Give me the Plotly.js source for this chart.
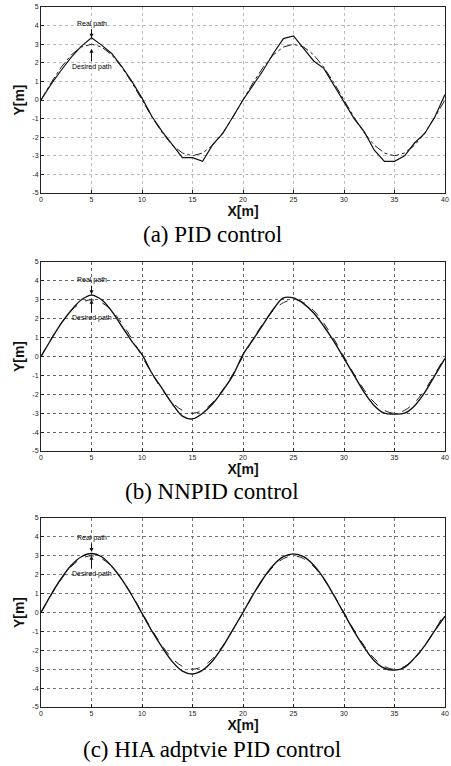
<!DOCTYPE html>
<html>
<head>
<meta charset="utf-8">
<script src="https://cdn.plot.ly/plotly-3.0.1.min.js"></script>
<style>
html,body{margin:0;padding:0;background:#fff;}
#chart{width:451px;height:766px;}
</style>
</head>
<body>
<div id="chart"></div>
<script>
// ---- data ----
const xPos = [0,1,2,3,4,5,6,7,8,9,10,11,12,13,14,15,16,17,18,19,20,21,22,23,24,25,26,27,28,29,30,31,32,33,34,35,36,37,38,39,40];

const desiredY = [0,0.93,1.76,2.43,2.85,3.00,2.85,2.43,1.76,0.93,0,-0.93,-1.76,-2.43,-2.85,-3.00,-2.85,-2.43,-1.76,-0.93,0,0.93,1.76,2.43,2.85,3.00,2.85,2.43,1.76,0.93,0,-0.93,-1.76,-2.43,-2.85,-3.00,-2.85,-2.43,-1.76,-0.93,0];

const realPID = [0,0.85,1.6,2.3,2.9,3.35,2.95,2.5,1.8,1.0,0.1,-0.9,-1.7,-2.4,-3.1,-3.1,-3.3,-2.4,-1.8,-0.9,0,0.8,1.6,2.5,3.3,3.45,2.8,2.1,1.7,0.8,-0.1,-1.0,-1.7,-2.7,-3.3,-3.3,-3.0,-2.3,-1.8,-0.9,0.3];

const realNNPID = [0,0.9,1.75,2.45,3.0,3.25,3.0,2.4,1.6,0.8,0.1,-0.9,-1.7,-2.5,-3.15,-3.3,-3.0,-2.5,-1.8,-1.0,0.1,0.9,1.7,2.5,3.1,3.1,2.8,2.3,1.6,0.8,-0.1,-1.0,-1.9,-2.6,-3.0,-3.05,-3.0,-2.6,-1.9,-1.0,-0.1];

const realHIA = [0,0.95,1.8,2.5,2.95,3.12,2.95,2.45,1.75,0.9,-0.05,-1.0,-1.85,-2.6,-3.1,-3.25,-3.05,-2.55,-1.8,-0.9,0,0.95,1.8,2.5,2.95,3.1,2.95,2.5,1.8,0.9,-0.05,-1.0,-1.85,-2.55,-2.95,-3.05,-2.9,-2.4,-1.75,-0.95,-0.2];

const xTicks = [0,5,10,15,20,25,30,35,40];
const yTicks = [-5,-4,-3,-2,-1,0,1,2,3,4,5];
const captions = ["(a) PID control","(b) NNPID control","(c) HIA adptvie PID control"];
const labelReal = "Real path";
const labelDesired = "Desired path";

// ---- figure ----
const realSets = [realPID, realNNPID, realHIA];
const traces = [];
const suffix = ["", "2", "3"];
for (let i = 0; i < 3; i++) {
  traces.push({
    x: xPos, y: desiredY, xaxis: "x" + suffix[i], yaxis: "y" + suffix[i],
    mode: "lines", name: labelDesired, showlegend: false,
    line: {color: "#222", width: 1, dash: i === 0 ? "dashdot" : "dash", shape: i === 0 ? "linear" : "spline"}
  });
  traces.push({
    x: xPos, y: realSets[i], xaxis: "x" + suffix[i], yaxis: "y" + suffix[i],
    mode: "lines", name: labelReal, showlegend: false,
    line: {color: "#111", width: i === 0 ? 1.2 : 1.4, shape: i === 0 ? "linear" : "spline"}
  });
}

const tickFont = {family: "Arial, Liberation Sans, sans-serif", size: 7, color: "#222"};
const titleFont = {family: "Arial, Liberation Sans, sans-serif", size: 14, color: "#111", weight: "bold"};

function xax(anchor, gridColor) {
  return {
    anchor: anchor, domain: [0, 1], range: [0, 40], tickvals: xTicks, ticktext: xTicks.map(String),
    showgrid: true, gridcolor: gridColor, griddash: "dot", gridwidth: 1,
    showline: true, linecolor: "#222", linewidth: 1, mirror: true,
    ticks: "inside", ticklen: 3, tickcolor: "#222", tickfont: tickFont, zeroline: false,
    title: {text: "X[m]", font: titleFont, standoff: 1}
  };
}
function yax(anchor, domain, gridColor) {
  return {
    anchor: anchor, domain: domain, range: [-5, 5], tickvals: yTicks, ticktext: yTicks.map(String),
    showgrid: true, gridcolor: gridColor, griddash: "dot", gridwidth: 1,
    showline: true, linecolor: "#222", linewidth: 1, mirror: true,
    ticks: "inside", ticklen: 3, tickcolor: "#222", tickfont: tickFont, zeroline: false,
    title: {text: "Y[m]", font: titleFont, standoff: 4}
  };
}

const annFont = {family: "Arial, Liberation Sans, sans-serif", size: 7, color: "#000"};
const annotations = [];
const arrowPts = [[3.35, 2.75], [3.3, 3.0], [3.2, 3.0]];
const refs = [["x", "y"], ["x2", "y2"], ["x3", "y3"]];
for (let i = 0; i < 3; i++) {
  annotations.push({xref: refs[i][0], yref: refs[i][1], x: 5, y: arrowPts[i][0], text: labelReal,
    font: annFont, showarrow: true, arrowhead: 2, arrowsize: 0.8, arrowwidth: 1, arrowcolor: "#111",
    ax: 0, ay: -14});
  annotations.push({xref: refs[i][0], yref: refs[i][1], x: 5, y: arrowPts[i][1], text: labelDesired,
    font: annFont, showarrow: true, arrowhead: 2, arrowsize: 0.8, arrowwidth: 1, arrowcolor: "#111",
    ax: 0, ay: 18});
}
const capY = [1 - 234 / 766, 1 - 491 / 766, 1 - 749 / 766];
for (let i = 0; i < 3; i++) {
  annotations.push({xref: "paper", yref: "paper", x: (212 - 41) / 404, y: capY[i],
    xanchor: "center", yanchor: "middle", showarrow: false, text: captions[i],
    font: {family: "Liberation Serif, Times New Roman, serif", size: 23, color: "#000"}});
}

const layout = {
  width: 451, height: 766,
  margin: {l: 41, r: 6, t: 0, b: 0},
  paper_bgcolor: "#fff", plot_bgcolor: "#fff",
  showlegend: false,
  xaxis: xax("y", "#bbb"),
  yaxis: yax("x", [1 - 193 / 766, 1 - 7 / 766], "#bbb"),
  xaxis2: xax("y2", "#666"),
  yaxis2: yax("x2", [1 - 451 / 766, 1 - 262 / 766], "#666"),
  xaxis3: xax("y3", "#777"),
  yaxis3: yax("x3", [1 - 707 / 766, 1 - 518 / 766], "#777"),
  annotations: annotations
};

Plotly.newPlot("chart", traces, layout, {displayModeBar: false, staticPlot: true});
</script>
</body>
</html>
